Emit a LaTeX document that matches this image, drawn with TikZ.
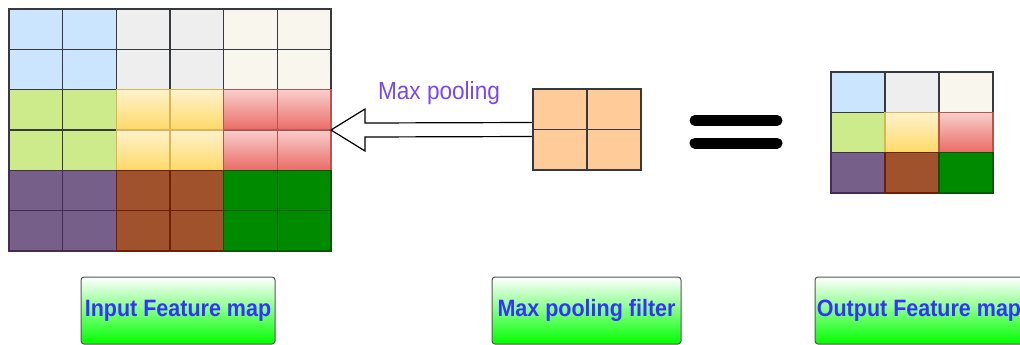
\documentclass[tikz,border=0pt]{standalone}
\usepackage{fontspec}
\usepackage{graphicx}
\setmainfont{Liberation Sans}
\usetikzlibrary{calc}

% cell palette
\definecolor{edgeDk}{HTML}{36393D}
\definecolor{fBlue}{HTML}{CCE5FF}
\definecolor{fGray}{HTML}{EEEEEE}
\definecolor{fCream}{HTML}{F9F7ED}
\definecolor{fLGreen}{HTML}{CDEB8B}
\definecolor{fYelTop}{HTML}{FFF2CC}
\definecolor{fYelBot}{HTML}{FFD966}
\definecolor{eYel}{HTML}{D6B656}
\definecolor{fRedTop}{HTML}{F8CECC}
\definecolor{fRedBot}{HTML}{EA6B66}
\definecolor{eRed}{HTML}{B85450}
\definecolor{fPurple}{HTML}{76608A}
\definecolor{ePurple}{HTML}{432D57}
\definecolor{fBrown}{HTML}{A0522D}
\definecolor{eBrown}{HTML}{6D1F00}
\definecolor{fGreen}{HTML}{008A00}
\definecolor{eGreen}{HTML}{005700}
\definecolor{fOrange}{HTML}{FFCC99}
\definecolor{labelBlue}{HTML}{3333FF}
\definecolor{poolText}{RGB}{121,71,245}
\definecolor{boxEdge}{HTML}{555555}
\definecolor{lime}{RGB}{0,255,0}

\begin{document}
\begin{tikzpicture}[x=1pt,y=-1pt,
  frame/.style={rectangle,inner sep=0pt,outer sep=0pt},
  cell/.style={line width=1.2pt},
  cblue/.style={cell,fill=fBlue,draw=edgeDk},
  cgray/.style={cell,fill=fGray,draw=edgeDk},
  ccream/.style={cell,fill=fCream,draw=edgeDk},
  clgreen/.style={cell,fill=fLGreen,draw=edgeDk},
  cyellow/.style={cell,top color=fYelTop,bottom color=fYelBot,draw=eYel},
  cred/.style={cell,top color=fRedTop,bottom color=fRedBot,draw=eRed},
  cpurple/.style={cell,fill=fPurple,draw=ePurple},
  cbrown/.style={cell,fill=fBrown,draw=eBrown},
  cgreen/.style={cell,fill=fGreen,draw=eGreen},
  corange/.style={cell,fill=fOrange,draw=edgeDk},
  hollow/.style={draw=black,fill=white,line width=1.2pt,line join=miter},
  eqbar/.style={line width=11pt,line cap=round,black},
  tag/.style={rectangle,rounded corners=3pt,draw=boxEdge,line width=1pt,
    top color=white,bottom color=lime,minimum height=67pt,inner sep=0pt,
    text=labelBlue,font=\fontsize{21.5}{24}\selectfont\bfseries},
]
\useasboundingbox (0,0) rectangle (1020,345);

% outlines of the three grids
\node[frame,minimum width=322pt,minimum height=242pt] (inmap) at (170,130) {};
\node[frame,minimum width=108pt,minimum height=81pt] (filt) at (587,129.5) {};
\node[frame,minimum width=162pt,minimum height=121pt] (outmap) at (912,132.5) {};

% input 6x6 map (2x2 per colour block) and pooled 3x3 map
\foreach \s [count=\i from 0] in {cblue,cgray,ccream,clgreen,cyellow,cred,cpurple,cbrown,cgreen} {
  \pgfmathtruncatemacro\bx{mod(\i,3)}
  \pgfmathtruncatemacro\by{div(\i,3)}
  \foreach \dx in {0,1} {
    \foreach \dy in {0,1} {
      \draw[\s] ({9+(2*\bx+\dx)*53.67},{9+(2*\by+\dy)*40.33}) rectangle ++(53.67,40.33);
    }
  }
  \draw[\s] ({831+\bx*54},{72+\by*40.33}) rectangle ++(54,40.33);
}

% hollow block arrow from the filter to the input map
\coordinate (tip) at (inmap.east);
\draw[hollow] ($(filt.west)+(0,-7)$) -- ($(tip)+(34,-7)$) -- ($(tip)+(34,-21)$)
  -- (tip) -- ($(tip)+(34,21)$) -- ($(tip)+(34,7)$) -- ($(filt.west)+(0,7)$) -- cycle;

% 2x2 pooling filter
\foreach \dx in {0,1} {
  \foreach \dy in {0,1} {
    \draw[corange] ({533+\dx*54},{89+\dy*40.5}) rectangle ++(54,40.5);
  }
}

\node[text=poolText,font=\fontsize{22.6}{25}\selectfont] (pool) at (439,93.5)
  {\scalebox{1}[1.1]{Max pooling}};

% equals sign
\draw[eqbar] (695,120.5) -- (777,120.5);
\draw[eqbar] (695,143) -- (777,143);

% captions
\node[tag,minimum width=194pt] (capIn) at (178,310.5) {\scalebox{1}[1.1]{Input Feature map}};
\node[tag,minimum width=189pt] (capFilt) at (586.5,310.5) {\scalebox{1}[1.1]{Max pooling filter}};
\node[tag,minimum width=208pt] (capOut) at (919,310.5) {\scalebox{1}[1.1]{Output Feature map}};
\end{tikzpicture}
\end{document}
